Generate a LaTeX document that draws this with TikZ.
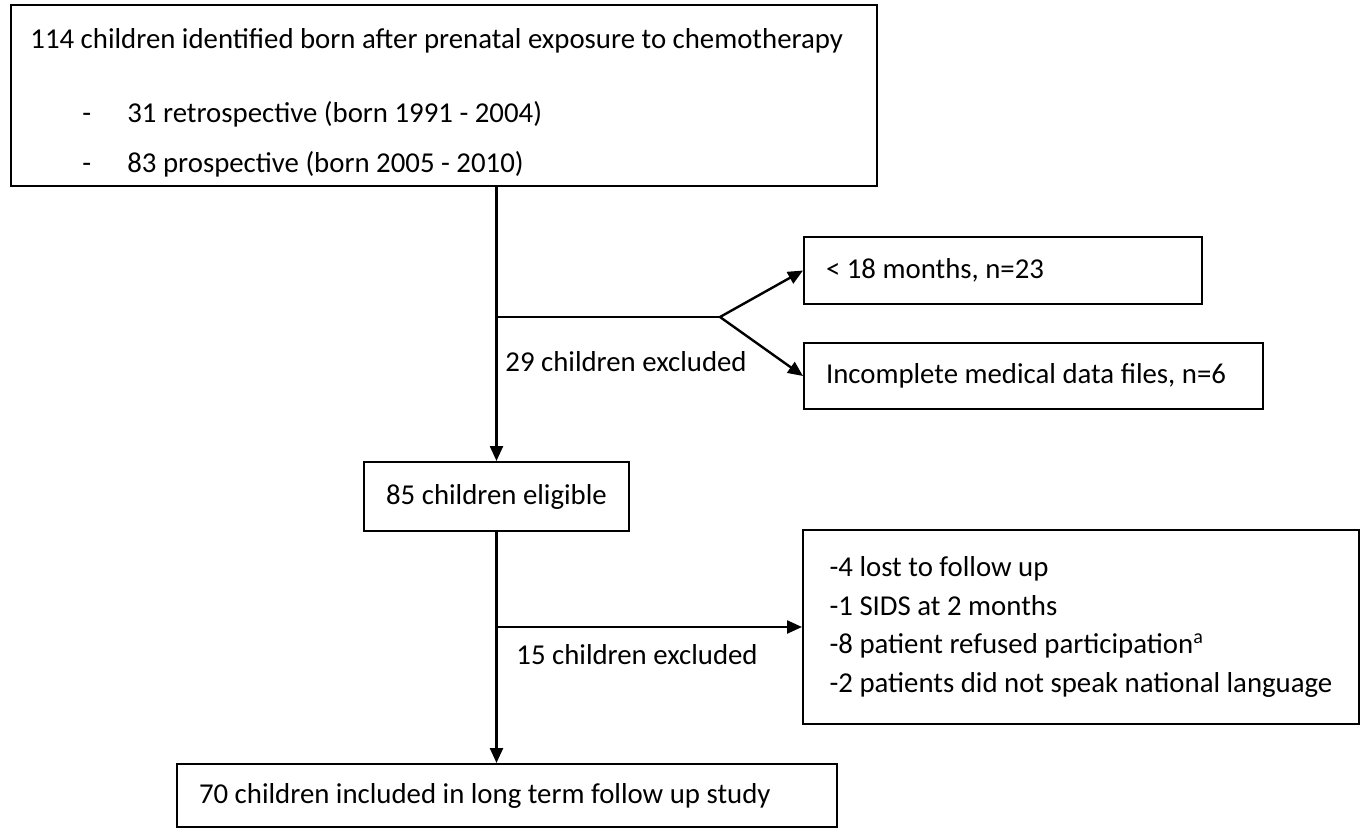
\documentclass[tikz,border=0pt]{standalone}
\usepackage{fontspec}
\setmainfont{Carlito}
\usetikzlibrary{arrows.meta}
\tikzset{
  box/.style={draw, line width=1pt, inner xsep=11pt, inner ysep=0pt, font=\fontsize{14.4}{19.3}\selectfont},
  exclbox/.style={box, anchor=north west, align=flush left},
  label/.style={anchor=base west, inner sep=0pt, font=\fontsize{14.4}{19.3}\selectfont},
  flow/.style={line width=1.2pt, -{Triangle[length=7.5pt,width=6.5pt]}},
  link/.style={line width=1.2pt}
}
\begin{document}
\begin{tikzpicture}[x=0.5pt,y=-0.5pt]
	\useasboundingbox (0,0) rectangle (1362,830);
	% boxes
	\node[box, anchor=north west, minimum width=433pt, minimum height=90.5pt] (identified) at (10,4) {};
	\node[label] (cohort) at (30,48) {114 children identified born after prenatal exposure to chemotherapy};
	\node[label] (retro) at (82,122) {\makebox[22.5pt][l]{-}31 retrospective (born 1991 - 2004)};
	\node[label] (prosp) at (82,172) {\makebox[22.5pt][l]{-}83 prospective (born 2005 - 2010)};
	\node[exclbox, text width=177pt, minimum height=33.5pt] (young) at (803,236) {< 18 months, n=23};
	\node[exclbox, text width=207.5pt, minimum height=33pt] (incomplete) at (803,342) {Incomplete medical data files, n=6};
	\node[box, minimum width=132.5pt, minimum height=34.5pt] (eligible) at (496.5,496.5) {85 children eligible};
	\node[box, align=flush left, minimum width=278pt, minimum height=97pt] (reasons) at (1081,627)
		{-4 lost to follow up\\
		 -1 SIDS at 2 months\\
		 -8 patient refused participation\textsuperscript{a}\\
		 -2 patients did not speak national language};
	\node[exclbox, text width=308pt, minimum height=31.5pt] (included) at (176,763) {70 children included in long term follow up study};
	% connectors
	\coordinate (fork) at (720,317);
	\draw[flow] (identified.south -| eligible.north) -- (eligible.north);
	\draw[link] (eligible.north |- fork) -- (fork);
	\draw[flow] (fork) -- (young.west);
	\draw[flow] (fork) -- (incomplete.west);
	\node[label] (excl29) at (505,371) {29 children excluded};
	\draw[flow] (eligible.south) -- (eligible.south |- included.north);
	\draw[flow] (eligible.south |- reasons.west) -- (reasons.west);
	\node[label] (excl15) at (516,664) {15 children excluded};
\end{tikzpicture}
\end{document}
